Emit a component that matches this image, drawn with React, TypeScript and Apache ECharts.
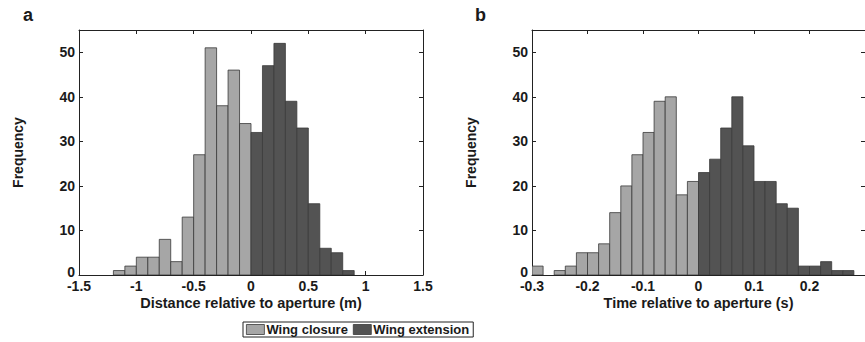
import React, { useEffect, useRef } from "react";
import * as echarts from "echarts";

// Panel a: distance relative to aperture (m), bins of 0.1 m
const distClosureStart = -1.2;
const distBinWidth = 0.1;
const distClosure = [1, 2, 4, 4, 8, 3, 13, 27, 51, 38, 46, 34];
const distExtensionStart = 0;
const distExtension = [32, 47, 52, 39, 33, 16, 6, 5, 1];

// Panel b: time relative to aperture (s), bins of 0.02 s
const timeClosureStart = -0.3;
const timeBinWidth = 0.02;
const timeClosure = [2, 0, 1, 2, 5, 5, 7, 14, 20, 27, 32, 39, 40, 18, 21];
const timeExtensionStart = 0;
const timeExtension = [23, 26, 33, 40, 29, 21, 21, 16, 15, 2, 2, 3, 1, 1];

const seriesNames = ["Wing closure", "Wing extension"];
const panelLabels = ["a", "b"];
const axisTitlesX = ["Distance relative to aperture (m)", "Time relative to aperture (s)"];
const axisTitleY = "Frequency";

const FONT = "'Liberation Sans', Arial, Helvetica, sans-serif";
const LIGHT = "#a6a6a6";
const DARK = "#535353";
const EDGE = "#3a3a3a";
const INK = "#1a1a1a";

function bins(start: number, width: number, counts: number[]) {
  const out: number[][] = [];
  counts.forEach((c, i) => {
    if (c > 0) {
      const x0 = +(start + i * width).toFixed(6);
      const x1 = +(start + (i + 1) * width).toFixed(6);
      out.push([x0, x1, c]);
    }
  });
  return out;
}

function histSeries(name: string, idx: number, data: number[][], color: string) {
  return {
    type: "custom",
    name,
    xAxisIndex: idx * 2,
    yAxisIndex: idx * 2,
    clip: true,
    dimensions: ["x0", "x1", "count"],
    encode: { x: [0, 1], y: 2 },
    itemStyle: { color, borderColor: EDGE, borderWidth: 0.8 },
    data,
    renderItem: (_p: any, api: any) => {
      const a = api.coord([api.value(0), api.value(2)]);
      const b = api.coord([api.value(1), 0]);
      return {
        type: "rect",
        shape: { x: a[0], y: a[1], width: b[0] - a[0], height: b[1] - a[1] },
        style: { fill: color, stroke: EDGE, lineWidth: 0.8 },
      };
    },
  };
}

const labelStyle = { fontFamily: FONT, fontWeight: "bold" as const, fontSize: 14, color: INK };
const lineStyle = { color: "#222", width: 1 };

function xAxes(grid: number, min: number, max: number, interval: number, name: string, showMax: boolean) {
  return [
    {
      type: "value",
      gridIndex: grid,
      position: "bottom",
      min,
      max,
      interval,
      axisLine: { show: true, onZero: false, lineStyle },
      axisTick: { show: true, inside: true, length: 4, lineStyle },
      axisLabel: { ...labelStyle, margin: 5, lineHeight: 12, showMaxLabel: showMax },
      splitLine: { show: false },
      name,
      nameLocation: "middle",
      nameGap: 20,
      nameMoveOverlap: false,
      nameTextStyle: { ...labelStyle, fontSize: 14.5, lineHeight: 15, verticalAlign: "top" },
    },
    {
      type: "value",
      gridIndex: grid,
      position: "top",
      min,
      max,
      interval,
      axisLine: { show: true, onZero: false, lineStyle },
      axisTick: { show: true, inside: true, length: 4, lineStyle },
      axisLabel: { show: false },
      splitLine: { show: false },
    },
  ];
}

function yAxes(grid: number) {
  return [
    {
      type: "value",
      gridIndex: grid,
      position: "left",
      min: 0,
      max: 55,
      interval: 10,
      axisLine: { show: true, onZero: false, lineStyle },
      axisTick: { show: true, inside: true, length: 4, lineStyle },
      axisLabel: {
        ...labelStyle,
        margin: 4,
        lineHeight: 12,
        showMaxLabel: false,
        formatter: (v: number) => (v === 0 ? "{z|0}" : String(v)),
        rich: {
          z: { ...labelStyle, lineHeight: 12, padding: [0, 0, 7, 0] },
        },
      },
      splitLine: { show: false },
      name: axisTitleY,
      nameLocation: "middle",
      nameGap: 54,
      nameMoveOverlap: false,
      nameTextStyle: { ...labelStyle },
    },
    {
      type: "value",
      gridIndex: grid,
      position: "right",
      min: 0,
      max: 55,
      interval: 10,
      axisLine: { show: true, onZero: false, lineStyle },
      axisTick: { show: true, inside: true, length: 4, lineStyle },
      axisLabel: { show: false },
      splitLine: { show: false },
    },
  ];
}

export default function App() {
  const ref = useRef<HTMLDivElement>(null);
  useEffect(() => {
    document.body.style.margin = "0";
    if (!ref.current) return;
    const chart = echarts.init(ref.current, null, { renderer: "svg" });
    const option: any = {
      animation: false,
      backgroundColor: "#ffffff",
      textStyle: { fontFamily: FONT },
      grid: [
        { left: 79, top: 30, width: 344, bottom: 67 },
        { left: 532, top: 30, width: 344, bottom: 67 },
      ],
      xAxis: [
        ...xAxes(0, -1.5, 1.5, 0.5, axisTitlesX[0], true),
        ...xAxes(1, -0.3, 0.3, 0.1, axisTitlesX[1], false),
      ],
      yAxis: [...yAxes(0), ...yAxes(1)],
      legend: {
        left: 243,
        top: 322,
        orient: "horizontal",
        padding: [1, 4, 1, 3],
        itemGap: 5,
        itemWidth: 18,
        itemHeight: 10,
        borderColor: "#222",
        borderWidth: 1,
        borderRadius: 0,
        selectedMode: false,
        icon: "rect",
        textStyle: { ...labelStyle, fontSize: 13, padding: [0, 0, 0, -3] },
        data: [
          { name: seriesNames[0], itemStyle: { color: LIGHT, borderColor: EDGE, borderWidth: 0.8 } },
          { name: seriesNames[1], itemStyle: { color: DARK, borderColor: EDGE, borderWidth: 0.8 } },
        ],
      },
      graphic: [
        {
          type: "text",
          left: 23,
          top: 6,
          style: { text: panelLabels[0], font: `bold 18px ${FONT}`, fill: INK },
        },
        {
          type: "text",
          left: 475,
          top: 6,
          style: { text: panelLabels[1], font: `bold 18px ${FONT}`, fill: INK },
        },
      ],
      series: [
        histSeries(seriesNames[0], 0, bins(distClosureStart, distBinWidth, distClosure), LIGHT),
        histSeries(seriesNames[1], 0, bins(distExtensionStart, distBinWidth, distExtension), DARK),
        histSeries(seriesNames[0], 1, bins(timeClosureStart, timeBinWidth, timeClosure), LIGHT),
        histSeries(seriesNames[1], 1, bins(timeExtensionStart, timeBinWidth, timeExtension), DARK),
      ],
    };
    chart.setOption(option);
    return () => chart.dispose();
  }, []);
  return <div ref={ref} style={{ width: 865, height: 342 }} />;
}
